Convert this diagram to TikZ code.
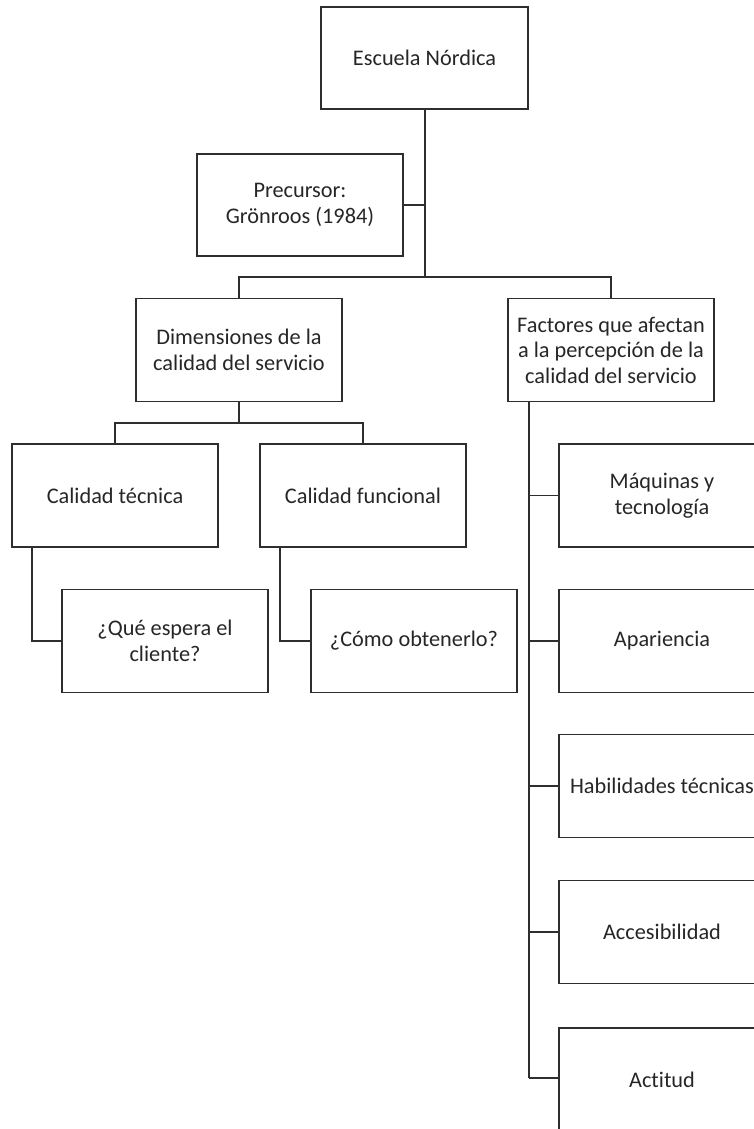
\documentclass[tikz,border=0pt]{standalone}
\usepackage{fontspec}
\setmainfont{Carlito}[RawFeature={-liga}]
\begin{document}
\begin{tikzpicture}[x=1pt,y=-1pt,
  box/.style={draw=linegray, line width=1.6pt, rectangle, minimum width=206pt,
    minimum height=103pt, align=center, inner sep=0pt, text=textgray,
    font=\fontsize{22.3}{25.5}\selectfont},
  link/.style={draw=linegray, line width=1.6pt}]
\definecolor{linegray}{HTML}{2E2E2E}
\definecolor{textgray}{HTML}{262626}
\useasboundingbox (0,0) rectangle (754,1129);
\clip (0,0) rectangle (754,1129);

% top of the hierarchy
\node[box, minimum width=207pt, minimum height=102pt] (esc) at (424.5,58) {Escuela Nórdica};
\node[box, minimum height=102pt] (pre) at (300,205) {Precursor:\\Grönroos (1984)};
\node[box] (dim) at (239,350) {Dimensiones de la\\calidad del servicio};
\node[box] (fac) at (611,350) {Factores que afectan\\a la percepción de la\\calidad del servicio};

% dimensions branch
\node[box] (ct) at (115,495.5) {Calidad técnica};
\node[box] (cf) at (363,495.5) {Calidad funcional};
\node[box] (que) at (165,641) {¿Qué espera el\\cliente?};
\node[box] (como) at (414,641) {¿Cómo obtenerlo?};

% factors branch
\node[box] (maq) at (662,495.5) {Máquinas y\\tecnología};
\node[box] (apa) at (662,641) {Apariencia};
\node[box] (hab) at (662,786) {Habilidades técnicas};
\node[box] (acc) at (662,932) {Accesibilidad};
\node[box] (act) at (662,1079.5) {Actitud};

% connector junctions
\coordinate (hub) at (425,277);
\coordinate (dimhub) at (239,423);
\coordinate (facspine) at (529,1078);

% trunk from the root
\draw[link, line width=2pt] (esc.south -| hub) -- (hub);
\draw[link] (pre.east) -- (pre.east -| hub);
\draw[link] (dim.north) |- (hub) -| (fac.north);

% dimensions split
\draw[link] (dim.south) -- (dimhub);
\draw[link] (ct.north) |- (dimhub) -| (cf.north);
\draw[link] (ct.south -| 32,0) |- (que.west);
\draw[link] (cf.south -| 280,0) |- (como.west);

% factors spine
\draw[link] (fac.south -| facspine) -- (facspine);
\foreach \n in {maq,apa,hab,acc}
  \draw[link] (\n.west -| facspine) -- (\n.west);
\draw[link] (facspine) -- (facspine -| act.west);
\end{tikzpicture}
\end{document}
